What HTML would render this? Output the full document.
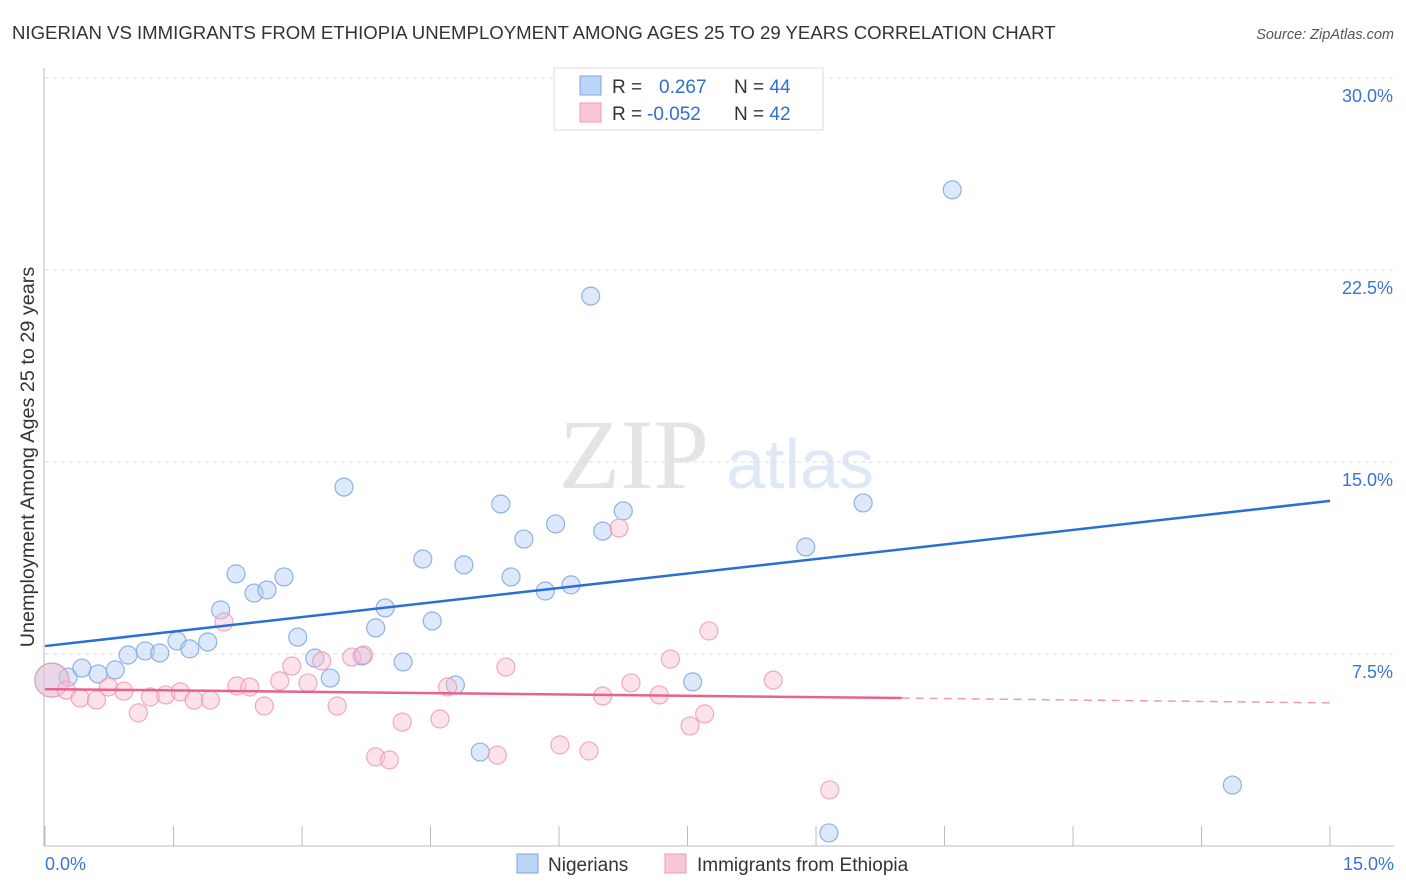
<!DOCTYPE html>
<html><head><meta charset="utf-8"><style>
body{margin:0;background:#fff;font-family:"Liberation Sans",sans-serif;}
svg{display:block}
</style></head><body>
<svg width="1406" height="892" xmlns="http://www.w3.org/2000/svg">
<text x="12" y="39" font-size="18.6" fill="#333">NIGERIAN VS IMMIGRANTS FROM ETHIOPIA UNEMPLOYMENT AMONG AGES 25 TO 29 YEARS CORRELATION CHART</text>
<text x="1394" y="39" font-size="14.5" fill="#555" text-anchor="end" font-style="italic">Source: ZipAtlas.com</text>
<text x="634" y="488" font-size="100" fill="#e4e4e4" font-family="Liberation Serif,serif" text-anchor="middle">ZIP</text>
<text x="800" y="488" font-size="70" fill="#dfe8f6" text-anchor="middle">atlas</text>
<g id="grid"></g>
<g id="axes"></g>
<text transform="translate(34,457) rotate(-90)" font-size="19.8" fill="#333" text-anchor="middle">Unemployment Among Ages 25 to 29 years</text>
<g id="marks"></g>
<g>
<rect x="554" y="68" width="269" height="62" fill="#fff" stroke="#ddd"/>
<rect x="580" y="76" width="21" height="19" fill="#bcd5f5" stroke="#7aa6e6"/>
<rect x="580" y="103" width="21" height="19" fill="#f9c8d6" stroke="#ee98b2"/>
<text x="612" y="93" font-size="19" fill="#333">R = <tspan fill="#2f6fd6" x="659">0.267</tspan><tspan x="734" fill="#333">N = </tspan><tspan fill="#2f6fd6">44</tspan></text>
<text x="612" y="120" font-size="19" fill="#333">R = <tspan fill="#2f6fd6" x="647">-0.052</tspan><tspan x="734" fill="#333">N = </tspan><tspan fill="#2f6fd6">42</tspan></text>
</g>
<g>
<rect x="517" y="854" width="21" height="19" fill="#bcd5f5" stroke="#7aa6e6"/>
<text x="548" y="871" font-size="19" fill="#333">Nigerians</text>
<rect x="665" y="854" width="21" height="19" fill="#f9c8d6" stroke="#ee98b2"/>
<text x="697" y="871" font-size="19" fill="#333">Immigrants from Ethiopia</text>
</g>
</svg>
<script>
const yTicks=[7.5,15,22.5,30];
const yTickLabels=["7.5%","15.0%","22.5%","30.0%"];
const xTickLabels=["0.0%","15.0%"];
const blueX=[0.08,0.27,0.43,0.62,0.82,0.97,1.17,1.34,1.54,1.69,1.90,2.05,2.23,2.44,2.59,2.79,2.95,3.15,3.33,3.49,3.70,3.86,3.97,4.18,4.41,4.52,4.79,4.89,5.08,5.32,5.44,5.59,5.84,5.96,6.14,6.37,6.51,6.75,7.56,8.88,9.15,9.55,10.59,13.86];
const blueY=[6.48,6.60,6.95,6.72,6.88,7.46,7.62,7.54,8.01,7.70,7.97,9.22,10.63,9.88,10.0,10.51,8.16,7.34,6.56,14.02,7.42,8.52,9.30,7.19,11.21,8.79,6.29,10.98,3.67,13.36,10.51,11.99,9.96,12.58,10.20,21.48,12.30,13.09,6.41,11.68,0.51,13.40,25.63,2.38];
const pinkX=[0.08,0.25,0.41,0.60,0.74,0.92,1.09,1.23,1.41,1.58,1.74,1.93,2.09,2.24,2.39,2.56,2.74,2.88,3.07,3.23,3.41,3.58,3.72,3.86,4.02,4.17,4.61,4.70,5.28,5.38,6.01,6.35,6.51,6.70,6.84,7.17,7.30,7.53,7.70,7.75,8.50,9.16];
const pinkY=[6.48,6.09,5.78,5.70,6.21,6.05,5.20,5.82,5.90,6.02,5.70,5.70,8.75,6.25,6.21,5.47,6.45,7.03,6.37,7.23,5.47,7.38,7.46,3.48,3.36,4.84,4.96,6.21,3.55,6.99,3.95,3.71,5.86,12.42,6.37,5.90,7.30,4.69,5.16,8.40,6.48,2.19];
const blueTrend=[7.81,13.48];
const pinkTrend=[6.13,5.78,5.59];
const NS="http://www.w3.org/2000/svg";
const X=v=>45+v*85.67, Y=v=>846-v*25.6;
function mk(t,a,p){const e=document.createElementNS(NS,t);for(const k in a)e.setAttribute(k,a[k]);p.appendChild(e);return e;}
const grid=document.getElementById('grid'),axes=document.getElementById('axes'),marks=document.getElementById('marks');
yTicks.forEach((v,i)=>{
 const l=mk('line',{x1:45,x2:1394,y1:Y(v),y2:Y(v),stroke:'#ddd','stroke-dasharray':'4,4'},grid);
 
 
 const t=mk('text',{x:1393,y:Y(v)+24,'font-size':18,fill:'#3a73d6','text-anchor':'end'},axes);
 t.textContent=yTickLabels[i];
 
 
});
const ax=mk('line',{x1:44,x2:44,y1:68,y2:846,stroke:'#bbb'},axes);


const bx=mk('line',{x1:44,x2:1394,y1:846,y2:846,stroke:'#bbb'},axes);


for(let i=0;i<=10;i++){const tk=mk('line',{x1:X(i*1.5),x2:X(i*1.5),y1:826,y2:846,stroke:'#bbb'},axes);
 
 }
[[0,'start',45],[15,'end',1394]].forEach((d,i)=>{const t=mk('text',{x:d[2],y:870,'font-size':18,fill:'#3a73d6','text-anchor':d[1]},axes);t.textContent=xTickLabels[i];
 
 });
function pts(xs,ys,fill,stroke,name){xs.forEach((x,i)=>{const c=mk('circle',{cx:X(x),cy:Y(ys[i]),r:i===0?17:9,fill:fill,'fill-opacity':0.45,stroke:stroke,'stroke-opacity':0.85,'stroke-width':1.2},marks);
 
 });}
pts(blueX,blueY,'#b4cff3','#7ba6e3','point-nigerians');
pts(pinkX,pinkY,'#f8c2d2','#ee9ab4','point-ethiopia');
const bl=mk('line',{x1:X(0),y1:Y(blueTrend[0]),x2:X(15),y2:Y(blueTrend[1]),stroke:'#2a6fd6','stroke-width':2.5},marks);


const pl=mk('line',{x1:X(0),y1:Y(pinkTrend[0]),x2:X(10),y2:Y(pinkTrend[1]),stroke:'#e8628d','stroke-width':2.5},marks);


const pd=mk('line',{x1:X(10),y1:Y(pinkTrend[1]),x2:X(15),y2:Y(pinkTrend[2]),stroke:'#ee9ab4','stroke-width':1.5,'stroke-dasharray':'8,6'},marks);


</script>
</body></html>
